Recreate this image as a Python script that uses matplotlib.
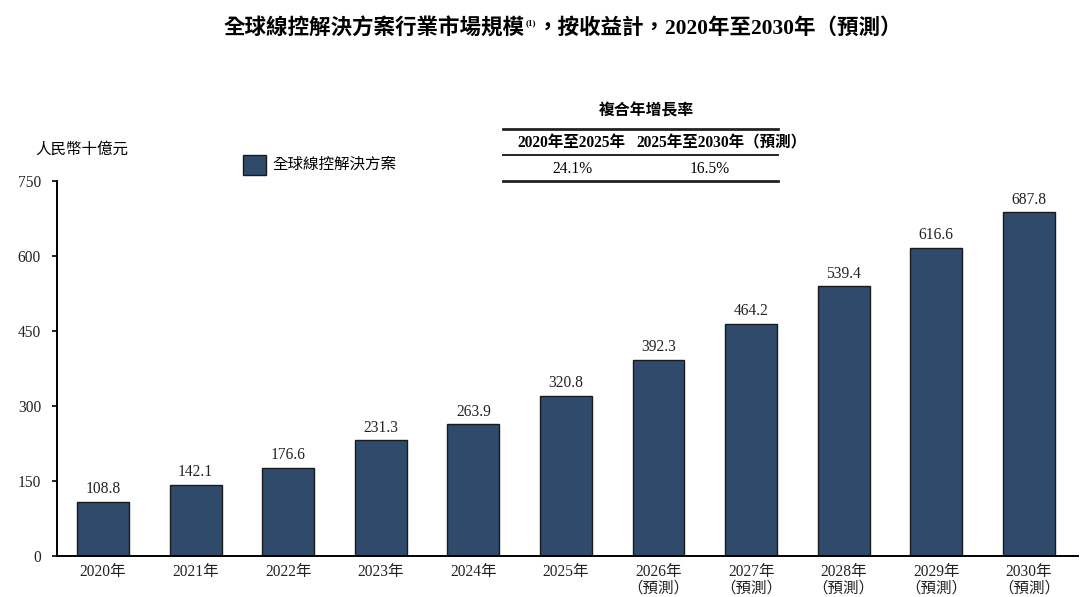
import matplotlib
matplotlib.use("Agg")
import matplotlib.pyplot as plt
from matplotlib.lines import Line2D
from matplotlib.patches import Rectangle

YEARS = ["2020", "2021", "2022", "2023", "2024", "2025", "2026", "2027", "2028", "2029", "2030"]
FORECAST_FROM = "2026"
VALUES = [108.8, 142.1, 176.6, 231.3, 263.9, 320.8, 392.3, 464.2, 539.4, 616.6, 687.8]
Y_TICKS = [0, 150, 300, 450, 600, 750]
CAGR_PERIODS = ["2020年至2025年", "2025年至2030年（預測）"]
CAGR_VALUES = ["24.1%", "16.5%"]

TITLE_LEFT = "全球線控解決方案行業市場規模"
TITLE_NOTE = "(1)"
TITLE_RIGHT = "，按收益計，2020年至2030年（預測）"
SERIES = "全球線控解決方案"
UNIT = "人民幣十億元"

BAR_COLOR = "#2f4a6b"
TEXT_COLOR = "#222222"
plt.rcParams["font.family"] = ["Liberation Serif", "Noto Sans CJK TC", "DejaVu Sans"]

W, H = 1081, 597
fig = plt.figure(figsize=(W / 100, H / 100), dpi=100)
ax = fig.add_axes([57 / W, (H - 556) / H, (1078 - 57) / W, (556 - 181) / H])


def fx(px):
    return px / W


def fy(py):
    return 1 - py / H


xs = list(range(len(YEARS)))
ax.bar(xs, VALUES, width=0.56, color=BAR_COLOR, edgecolor="#1a1a1a", linewidth=1.0)
for x, v in zip(xs, VALUES):
    ax.text(x, v + 9, f"{v:.1f}", ha="center", va="bottom", fontsize=11.2, color=TEXT_COLOR)

labels = []
for y in YEARS:
    if int(y) >= int(FORECAST_FROM):
        labels.append(f"{y}年\n（預測）")
    else:
        labels.append(f"{y}年")
ax.set_xticks(xs)
ax.set_xticklabels(labels, fontsize=11.2, color=TEXT_COLOR, linespacing=1.05, va="top")
ax.tick_params(axis="x", length=0, pad=6)
ax.set_yticks(Y_TICKS)
ax.set_yticklabels([str(t) for t in Y_TICKS], fontsize=11.2, color=TEXT_COLOR)
ax.tick_params(axis="y", length=3.5, width=1.2, direction="out", pad=8)
ax.set_ylim(0, 750)
ax.set_xlim(-0.497, 10.53)
for side in ["top", "right"]:
    ax.spines[side].set_visible(False)
ax.spines["left"].set_linewidth(1.4)
ax.spines["bottom"].set_linewidth(1.4)

# title, with the footnote mark as a small raised text
fig.text(fx(525), fy(29), TITLE_LEFT, ha="right", va="center", fontsize=15.5, fontweight="bold")
fig.text(fx(526), fy(23), TITLE_NOTE, ha="left", va="center", fontsize=6.5, fontweight="bold")
fig.text(fx(537), fy(29), TITLE_RIGHT, ha="left", va="center", fontsize=15.5, fontweight="bold")

# unit label and legend
fig.text(fx(35), fy(150), UNIT, ha="left", va="center", fontsize=11.2, style="italic")
fig.patches.append(Rectangle((fx(243), fy(175)), 23 / W, 20 / H, transform=fig.transFigure,
                             facecolor=BAR_COLOR, edgecolor="#1a1a1a", linewidth=1.0))
fig.text(fx(272), fy(165), SERIES, ha="left", va="center", fontsize=11.2)

# CAGR table
fig.text(fx(646), fy(111), "複合年增長率", ha="center", va="center", fontsize=11.4, fontweight="bold")
for yy, lw in [(129, 2.0), (155, 1.4), (181, 2.0)]:
    fig.add_artist(Line2D([fx(503), fx(778)], [fy(yy), fy(yy)], transform=fig.transFigure,
                          color=TEXT_COLOR, linewidth=lw))
head_x = [571, 721]
val_x = [572, 710]
for hx, vx, period, val in zip(head_x, val_x, CAGR_PERIODS, CAGR_VALUES):
    fig.text(fx(hx), fy(143), period, ha="center", va="center", fontsize=11.2, fontweight="bold")
    fig.text(fx(vx), fy(169), val, ha="center", va="center", fontsize=11.2)

fig.savefig("out.png", dpi=100)
